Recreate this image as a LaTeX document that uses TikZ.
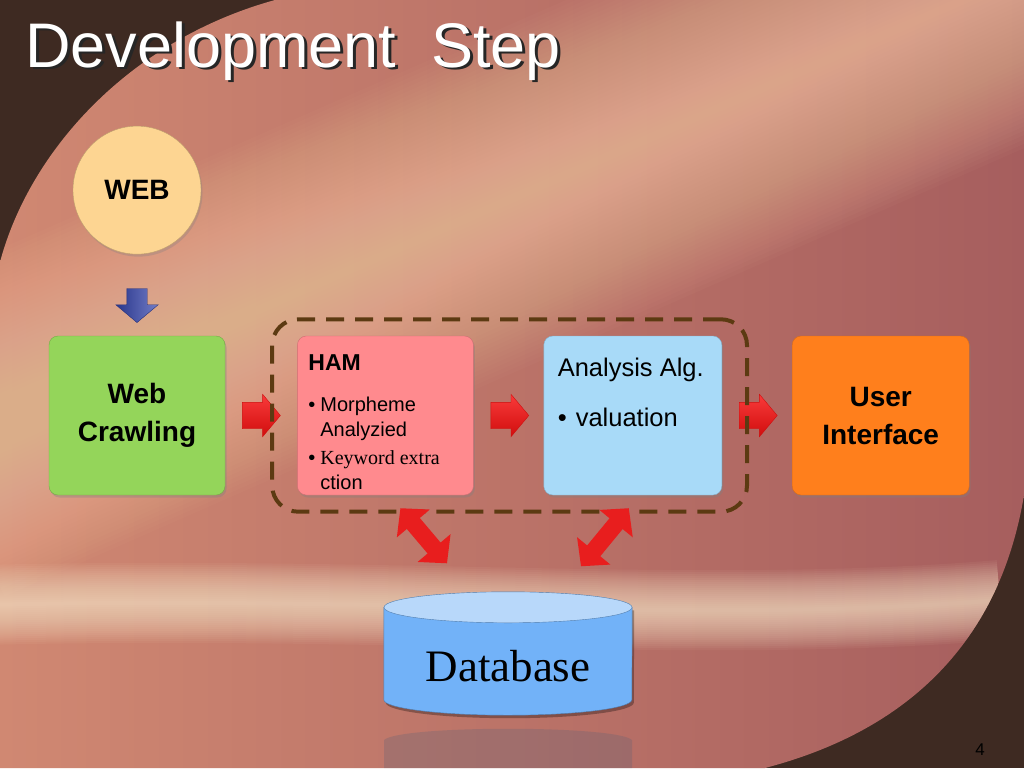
\documentclass[tikz,border=0pt]{standalone}
\usepackage{fontspec}
\setmainfont{Liberation Sans}
\newfontfamily\serifface{Liberation Serif}
\usepackage{tikz}
\usetikzlibrary{positioning}
\usetikzlibrary{shapes.geometric, shapes.arrows, arrows.meta, shadows, fit, calc}

\definecolor{darkbg}{HTML}{3E2A22}
\definecolor{salmonl}{HTML}{D08872}
\definecolor{salmonr}{HTML}{A65E5E}
\definecolor{peach}{HTML}{F9CCA8}
\definecolor{cream}{HTML}{FEEED0}
\definecolor{webfill}{HTML}{FDD592}
\definecolor{crawlfill}{HTML}{94D55A}
\definecolor{hamfill}{HTML}{FF8A8E}
\definecolor{algfill}{HTML}{A8DAF8}
\definecolor{uifill}{HTML}{FF7F1C}
\definecolor{dbbody}{HTML}{72B2F8}
\definecolor{dbtop}{HTML}{B8D8FA}
\definecolor{dashbrown}{HTML}{5C3A12}
\definecolor{arrowred}{HTML}{E81E1E}
\definecolor{redtop}{HTML}{FA3A3A}
\definecolor{redbot}{HTML}{D00E0E}
\definecolor{bluearr}{HTML}{3444AE}

\tikzstyle{stepbox} = [rectangle, rounded corners=9pt, minimum width=176pt, minimum height=159pt, inner sep=0pt, thin, drop shadow={opacity=0.35, shadow xshift=1.5pt, shadow yshift=-2.5pt}]
\tikzstyle{boxfont} = [font=\fontsize{28}{38}\selectfont\bfseries, align=center]
\tikzstyle{blockarrow} = [single arrow, single arrow head extend=8pt, single arrow tip angle=100, minimum height=38pt, inner xsep=0pt, inner ysep=13pt, draw=redbot, thin, top color=redtop, bottom color=redbot]
\tikzstyle{dbarrow} = [line width=17pt, arrowred, {Triangle[width=42pt,length=20pt]}-{Triangle[width=42pt,length=20pt]}]

\begin{document}
\begin{tikzpicture}[x=1pt,y=-1pt]
	\useasboundingbox (0,0) rectangle (1024,768);
	%Background
	\fill[darkbg] (0,0) rectangle (1024,768);
	\begin{scope}
		\clip (275,0) -- (1024,0) -- (1024,495) .. controls (1000,640) and (910,730) .. (765,768) -- (0,768) -- (0,262) .. controls (30,150) and (130,40) .. (275,0) -- cycle;
		\shade[left color=salmonl, right color=salmonr] (0,0) rectangle (1024,768);
		\foreach \w in {8,16,...,320}
			\draw[peach, line width=\w pt, opacity=0.03] (-60,450) -- (1100,-60);
		\foreach \w in {4,8,...,80}
			\draw[cream, line width=\w pt, opacity=0.05] (-20,605) .. controls (400,595) and (700,625) .. (1000,600);
	\end{scope}

	%Title
	\node [anchor=base west, inner sep=0pt, black!85, font=\fontsize{63}{63}\selectfont] (titleshadow) at (28,70) {Development~~Step};
	\node [anchor=base west, inner sep=0pt, white, font=\fontsize{63}{63}\selectfont] (title) at (25,67) {Development~~Step};

	%Nodes
	\node (rect) [stepbox, boxfont, draw=crawlfill!80!black, fill=crawlfill] (crawl) at (137,415.5) {Web\\Crawling};
	\node (rect) [stepbox, draw=hamfill!80!black, fill=hamfill, right=72pt of crawl] (ham) {};
	\node (rect) [stepbox, draw=algfill!80!black, fill=algfill, minimum width=178pt, right=70pt of ham] (alg) {};
	\node (rect) [stepbox, boxfont, draw=uifill!85!black, fill=uifill, minimum width=177pt, right=70pt of alg] (ui) {User\\Interface};

	\node [anchor=north west, align=left, inner sep=0pt, font=\fontsize{20}{25}\selectfont] (hamtext) at ([shift={(11,19)}]ham.north west)
		{{\fontsize{23}{25}\selectfont\bfseries HAM}\\[16pt]
		\makebox[12pt][l]{•}Morpheme\\
		\hspace*{12pt}Analyzied\\[3pt]
		\makebox[12pt][l]{•}{\serifface Keyword extra}\\
		\hspace*{12pt}ction};
	\node [anchor=north west, align=left, inner sep=0pt, font=\fontsize{25.5}{30}\selectfont] (algtext) at ([shift={(14,22)}]alg.north west)
		{Analysis Alg.\\[20pt]
		\makebox[18pt][l]{•}valuation};

	\node [single arrow, shape border rotate=270, minimum height=34pt, inner sep=10pt, single arrow head extend=11pt, single arrow tip angle=100, draw=bluearr!70!black, thin, left color=bluearr!80!black, right color=bluearr!70!white, above=13pt of crawl] (down) {};
	\node [circle, minimum size=128pt, inner sep=0pt, fill=webfill, draw=webfill!75!black, thin, font=\fontsize{28}{28}\selectfont\bfseries, drop shadow={opacity=0.3, shadow xshift=1.5pt, shadow yshift=-2.5pt}, above=34pt of down] (web) {WEB};

	\node [blockarrow, right=17pt of crawl] (a1) {};
	\node [blockarrow, right=17pt of ham] (a2) {};
	\node [blockarrow, right=17pt of alg] (a3) {};

	\node [fit=(ham)(alg), inner xsep=25pt, inner ysep=16.5pt, draw=dashbrown, line width=4pt, dash pattern=on 18pt off 11pt, rounded corners=26pt] (core) {};

	%Database
	\fill[dbbody!40!darkbg, opacity=0.25] (384,740) .. controls (400,725) and (616,725) .. (632,740) -- (632,768) -- (384,768) -- cycle;
	\node [minimum width=248pt, minimum height=92pt, inner sep=0pt] (db) at (508,653.5) {};
	\fill[black, opacity=0.3] ([shift={(2,3)}]db.north west) -- ([shift={(2,3)}]db.south west) arc[start angle=180, end angle=360, x radius=124pt, y radius=15.5pt] -- ([shift={(2,3)}]db.north east) -- cycle;
	\filldraw[fill=dbbody, draw=dbbody!70!black, thin] (db.north west) -- (db.south west) arc[start angle=180, end angle=360, x radius=124pt, y radius=15.5pt] -- (db.north east) -- cycle;
	\filldraw[fill=dbtop, draw=dbbody!70!black, thin] (db.north) ellipse[x radius=124pt, y radius=15.5pt];
	\node [font=\serifface\fontsize{45}{45}\selectfont, inner sep=0pt] (dbtext) at ([yshift=-13pt]db.center) {Database};

	%Lines
	\draw[dbarrow] ($(ham.south)+(15,13)$) -- ($(db.north)+(-61,-44)$);
	\draw[dbarrow] ($(alg.south)+(-4,13)$) -- ($(db.north)+(73,-41)$);

	\node [font=\fontsize{17}{17}\selectfont, black] (page) at (980,750) {4};
\end{tikzpicture}
\end{document}
